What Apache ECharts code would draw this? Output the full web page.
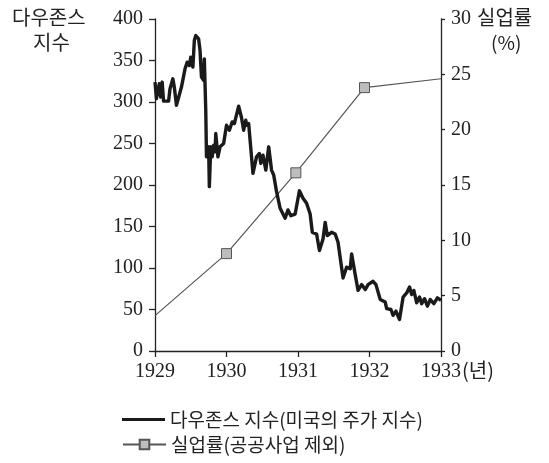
<!DOCTYPE html>
<html>
<head>
<meta charset="utf-8">
<script src="https://cdn.jsdelivr.net/npm/echarts@6/dist/echarts.min.js"></script>
<style>html,body{margin:0;padding:0;background:#fff;}#c{width:549px;height:463px;}</style>
</head>
<body>
<div id="c"></div>
<script>
// Dow Jones index (time in fractional years, value)
const dowYears = [1929.00,1929.02,1929.06,1929.08,1929.10,1929.12,1929.19,1929.21,1929.23,1929.25,1929.27,1929.30,1929.37,1929.42,1929.45,1929.48,1929.50,1929.53,1929.55,1929.57,1929.61,1929.63,1929.65,1929.68,1929.69,1929.71,1929.72,1929.75,1929.76,1929.78,1929.80,1929.82,1929.84,1929.85,1929.88,1929.91,1929.96,1930.00,1930.04,1930.08,1930.11,1930.17,1930.21,1930.24,1930.27,1930.28,1930.31,1930.37,1930.42,1930.46,1930.48,1930.51,1930.55,1930.59,1930.63,1930.66,1930.70,1930.75,1930.82,1930.86,1930.90,1930.96,1931.02,1931.07,1931.12,1931.17,1931.20,1931.26,1931.30,1931.35,1931.38,1931.41,1931.47,1931.52,1931.56,1931.63,1931.68,1931.73,1931.75,1931.80,1931.84,1931.89,1931.94,1931.98,1932.05,1932.09,1932.15,1932.22,1932.24,1932.30,1932.33,1932.37,1932.42,1932.47,1932.52,1932.56,1932.59,1932.62,1932.66,1932.70,1932.73,1932.77,1932.81,1932.85,1932.90,1932.95,1933.00];
const dowValues = [324,304,322,306,324,301,301,316,314,328,318,296,318,340,348,344,354,342,374,380,376,362,330,326,352,290,234,246,198,246,234,248,240,262,234,246,250,272,266,276,274,295,281,266,278,272,274,214,234,238,226,236,218,246,218,212,192,172,160,170,163,165,193,184,178,165,143,141,121,135,155,139,143,141,131,88,101,99,117,92,73,80,74,80,84,80,62,59,51,50,43,48,38,65,70,77,68,73,58,65,57,63,54,62,57,64,61];

// Unemployment rate (%)
const unempYears = [1929, 1930, 1930.97, 1931.93, 1933];
const unempValues = [3.2, 8.8, 16.1, 23.8, 24.6];

const xTicks = [1929, 1930, 1931, 1932, 1933];
const leftTicks = [0, 50, 100, 150, 200, 250, 300, 350, 400];
const rightTicks = [0, 5, 10, 15, 20, 25, 30];

const dowName = '다우존스 지수(미국의 주가 지수)';
const unempName = '실업률(공공사업 제외)';

const serif = '"Liberation Serif", "DejaVu Serif", serif';
const sans = '"Noto Sans CJK KR", "Noto Sans", sans-serif';
const ink = '#222';

const chart = echarts.init(document.getElementById('c'), null, {renderer: 'canvas'});
const legendText = {color: ink, fontFamily: sans, fontSize: 19};
chart.setOption({
  backgroundColor: '#fff',
  animation: false,
  grid: {left: 155, right: 108, top: 19, bottom: 112, containLabel: false},
  xAxis: {
    type: 'value', min: xTicks[0], max: xTicks[xTicks.length - 1], interval: 1,
    splitLine: {show: false},
    axisLine: {show: true, lineStyle: {color: ink, width: 1.3}},
    axisTick: {show: true, length: 6, lineStyle: {color: ink, width: 1.3}},
    axisLabel: {color: ink, fontFamily: serif, fontSize: 20, margin: 11,
      formatter: v => String(v)}
  },
  yAxis: [{
    type: 'value', min: leftTicks[0], max: leftTicks[leftTicks.length - 1], interval: 50,
    position: 'left',
    splitLine: {show: false},
    axisLine: {show: true, lineStyle: {color: ink, width: 1.3}},
    axisTick: {show: true, length: 6, lineStyle: {color: ink, width: 1.3}},
    axisLabel: {color: ink, fontFamily: serif, fontSize: 20, margin: 12}
  }, {
    type: 'value', min: rightTicks[0], max: rightTicks[rightTicks.length - 1], interval: 5,
    position: 'right',
    splitLine: {show: false},
    axisLine: {show: true, onZero: false, lineStyle: {color: ink, width: 1.3}},
    axisTick: {show: true, length: 4, lineStyle: {color: ink, width: 1.3}},
    axisLabel: {color: ink, fontFamily: serif, fontSize: 20, margin: 10}
  }],
  legend: [{
    left: 117, top: 405,
    itemWidth: 43, itemHeight: 3, icon: 'rect',
    textStyle: legendText,
    data: [{name: dowName, icon: 'rect', itemStyle: {color: '#1a1a1a'}}]
  }, {
    left: 117, top: 430,
    itemWidth: 43, itemHeight: 12,
    textStyle: legendText,
    data: [unempName]
  }],
  graphic: [
    {type: 'text', left: 12, top: 7, style: {text: '다우존스', fill: ink, font: '20px ' + sans}},
    {type: 'text', left: 33, top: 32, style: {text: '지수', fill: ink, font: '20px ' + sans}},
    {type: 'text', left: 477, top: 7, style: {text: '실업률', fill: ink, font: '20px ' + sans}},
    {type: 'text', left: 491, top: 33, style: {text: '(%)', fill: ink, font: '19px ' + sans}},
    {type: 'text', left: 462, top: 360, style: {text: '(년)', fill: ink, font: '20px ' + sans}}
  ],
  series: [{
    name: unempName, type: 'line', yAxisIndex: 1,
    data: unempYears.map((y, i) => ({
      value: [y, unempValues[i]],
      symbol: (i === 0 || i === unempYears.length - 1) ? 'none' : 'rect'
    })),
    symbol: 'rect', symbolSize: 10, showAllSymbol: true,
    lineStyle: {color: '#555', width: 1.2},
    itemStyle: {color: '#bdbdbd', borderColor: '#555', borderWidth: 1},
    z: 2
  }, {
    name: dowName, type: 'line', yAxisIndex: 0,
    data: dowYears.map((y, i) => [y, dowValues[i]]),
    symbol: 'none',
    lineStyle: {color: '#1a1a1a', width: 3.4, join: 'round'},
    itemStyle: {color: '#1a1a1a'},
    z: 3
  }]
});
</script>
</body>
</html>
